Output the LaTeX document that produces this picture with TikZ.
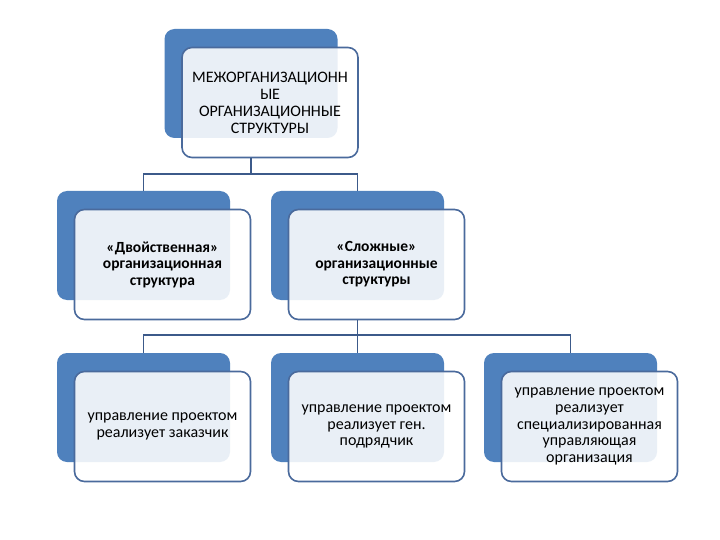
\documentclass[tikz,border=0pt]{standalone}
\usepackage{fontspec}
\setmainfont{Carlito}
\definecolor{azul}{HTML}{4F81BD}
\definecolor{borde}{HTML}{4A6A9C}
\definecolor{conector}{HTML}{3C5A8A}
\begin{document}
\begin{tikzpicture}[x=1pt, y=-1pt,
        fondo/.style={fill=azul, rounded corners=10pt, minimum width=173pt, minimum height=109pt, inner sep=0pt},
        caja/.style={draw=borde, line width=1.6pt, fill=white, fill opacity=0.88, text opacity=1,
            rounded corners=10pt, minimum width=176pt, minimum height=110pt, inner sep=2pt,
            align=center, font=\fontsize{16}{16.8}\selectfont},
        linea/.style={draw=conector, line width=1.5pt}]
    \useasboundingbox[fill=white] (0,0) rectangle (720,540);

    % Caja superior
    \node[fondo] (mof) at (251,83.5) {};
    \node[caja, font=\fontsize{16}{17}\selectfont] (mo) at (270,102.5) {МЕЖОРГАНИЗАЦИОНН\\ЫЕ\\ОРГАНИЗАЦИОННЫЕ\\СТРУКТУРЫ};

    % Segundo nivel
    \node[fondo] (dvf) at (143.5,245.5) {};
    \node[caja, font=\fontsize{15.5}{16.5}\selectfont\bfseries] (dv) at (162.5,264.5) {«Двойственная»\\организационная\\структура};
    \node[fondo] (slf) at (357.5,245.5) {};
    \node[caja, font=\fontsize{15.5}{16.5}\selectfont\bfseries] (sl) at (376.5,264.5) {«Сложные»\\организационные\\структуры};

    % Tercer nivel
    \node[fondo] (zaf) at (143.5,407.5) {};
    \node[caja] (za) at (162.5,426.5) {управление проектом\\реализует заказчик};
    \node[fondo] (gpf) at (357.5,407.5) {};
    \node[caja] (gp) at (376.5,426.5) {управление проектом\\реализует ген.\\подрядчик};
    \node[fondo] (uof) at (570.5,407.5) {};
    \node[caja] (uo) at (589.5,426.5) {управление проектом\\реализует\\специализированная\\управляющая\\организация};

    % Lineas de union
    \coordinate (bus1) at (0,174);
    \coordinate (bus2) at (0,335);
    \draw[linea] (mof |- mo.south) -- (mof |- bus1);
    \draw[linea] (dvf.north) |- (slf |- bus1) -- (slf.north);
    \draw[linea] (slf |- sl.south) -- (slf |- bus2);
    \draw[linea] (zaf.north) |- (uof |- bus2) -- (uof.north);
    \draw[linea] (gpf |- bus2) -- (gpf.north);
\end{tikzpicture}
\end{document}
